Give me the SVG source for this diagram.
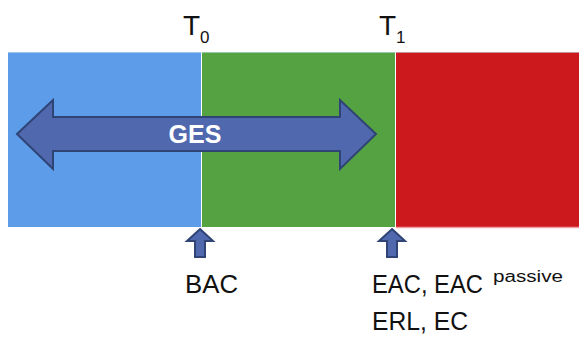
<svg xmlns="http://www.w3.org/2000/svg" width="579" height="338" viewBox="0 0 579 338">
<style>
.lbl{font-family:"Liberation Sans",Arial,sans-serif;fill:#111;}
.arr{fill:#5068AD;stroke:#2F4374;stroke-width:2;stroke-linejoin:miter;}
</style>
<rect width="579" height="338" fill="#fff"/>
<g id="phase-blue"><rect x="8" y="52" width="193" height="175" fill="#5C9CE8"/></g>
<g id="phase-green"><rect x="202" y="52" width="193" height="175" fill="#55A243"/></g>
<g id="phase-red"><rect x="396" y="52" width="183" height="175" fill="#CB191D"/></g>
<line x1="8" y1="52.5" x2="579" y2="52.5" stroke="#c8e0f0" stroke-width="1" opacity="0.6"/>
<line x1="396" y1="227.5" x2="579" y2="227.5" stroke="#f0a0a4" stroke-width="1.5"/>
<g id="T0"><text class="lbl" x="183" y="35" font-size="28">T<tspan font-size="17" dy="8">0</tspan></text></g>
<g id="T1"><text class="lbl" x="379" y="35" font-size="28">T<tspan font-size="17" dy="8">1</tspan></text></g>
<g id="connectors">
<path class="arr" d="M17,134 L53,100 L53,117 L340,117 L340,100 L376,134 L340,169 L340,151 L53,151 L53,169 Z"/>
<path class="arr" d="M200,229 L213,241 L205,241 L205,257 L195,257 L195,241 L187,241 Z"/>
<path class="arr" d="M392,229 L405,241 L397,241 L397,257 L387,257 L387,241 L379,241 Z"/>
</g>
<g id="GES"><text x="195" y="143" font-family="Liberation Sans,Arial,sans-serif" font-weight="bold" font-size="25" fill="#fff" text-anchor="middle">GES</text></g>
<g id="BAC"><text class="lbl" x="185" y="293" font-size="26" textLength="53" lengthAdjust="spacingAndGlyphs">BAC</text></g>
<g id="EAC"><text class="lbl" x="372" y="293" font-size="26" textLength="111" lengthAdjust="spacingAndGlyphs">EAC, EAC</text><text class="lbl" x="493" y="282" font-size="16" textLength="70" lengthAdjust="spacingAndGlyphs">passive</text></g>
<g id="ERL"><text class="lbl" x="372" y="330" font-size="26" textLength="96" lengthAdjust="spacingAndGlyphs">ERL, EC</text></g>
</svg>
